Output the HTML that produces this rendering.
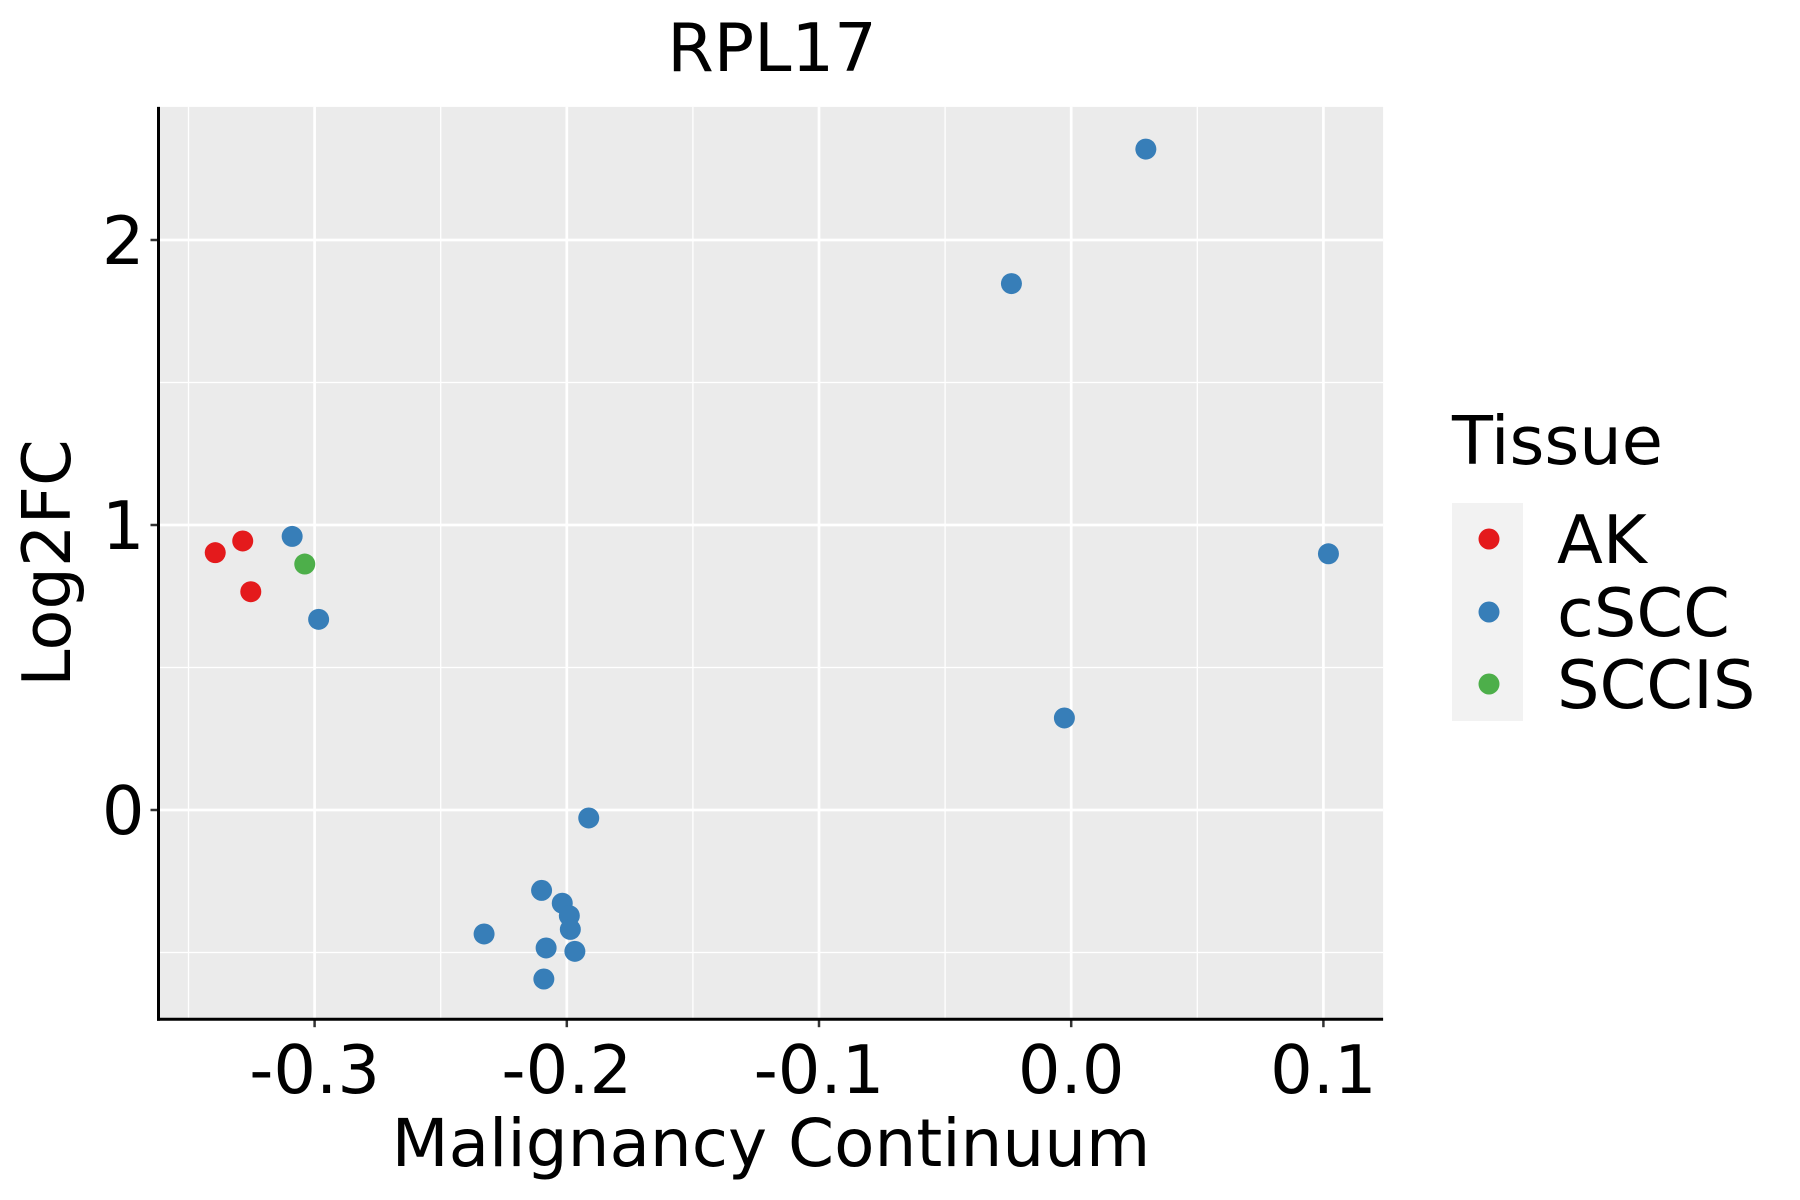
<!DOCTYPE html>
<html><head><meta charset="utf-8"><style>
html,body{margin:0;padding:0;background:#fff;}
svg{display:block;font-family:"DejaVu Sans","Liberation Sans",sans-serif;}
</style></head><body>
<svg id="chart" width="1800" height="1200" viewBox="0 0 1800 1200">
<rect x="158.5" y="106.9" width="1224.6" height="912.3" fill="#ebebeb"/>
<g id="grid"></g>
<g id="points"></g>
<g id="axes"></g>
<text x="772" y="71" font-size="67" text-anchor="middle">RPL17</text>
<text x="771" y="1166" font-size="66" text-anchor="middle">Malignancy Continuum</text>
<text transform="translate(70,563) rotate(-90)" font-size="67" text-anchor="middle">Log2FC</text>
<g>
<text x="1452" y="464" font-size="67">Tissue</text>
<rect x="1452" y="503" width="71" height="218" fill="#f2f2f2"/>
<circle cx="1489" cy="539" r="10.5" fill="#E41A1C"/>
<text x="1557" y="563" font-size="67">AK</text>
<circle cx="1489" cy="612" r="10.5" fill="#377EB8"/>
<text x="1557" y="636" font-size="67">cSCC</text>
<circle cx="1489" cy="684" r="10.5" fill="#4DAF4A"/>
<text x="1557" y="708" font-size="67">SCCIS</text>
</g>
</svg>
<script>
const xValues = [-0.3394,-0.3285,-0.3253,-0.3039,-0.3089,-0.2984,0.0296,-0.0237,0.102,-0.0027,-0.1913,-0.21,-0.2018,-0.199,-0.1986,-0.2328,-0.2082,-0.1968,-0.2091];
const yValues = [0.903,0.944,0.766,0.863,0.960,0.669,2.319,1.847,0.899,0.323,-0.028,-0.282,-0.327,-0.371,-0.419,-0.435,-0.484,-0.496,-0.593];
const tissues = ["AK","AK","AK","SCCIS","cSCC","cSCC","cSCC","cSCC","cSCC","cSCC","cSCC","cSCC","cSCC","cSCC","cSCC","cSCC","cSCC","cSCC","cSCC"];
const xTicks = [-0.3,-0.2,-0.1,0.0,0.1];
const xTickLabels = ["-0.3","-0.2","-0.1","0.0","0.1"];
const xMinor = [-0.35,-0.25,-0.15,-0.05,0.05];
const yTicks = [0,1,2];
const yTickLabels = ["0","1","2"];
const yMinor = [-0.5,0.5,1.5];
const colors = {AK:"#E41A1C",cSCC:"#377EB8",SCCIS:"#4DAF4A"};

const L=158.5,R=1383.1,T=106.9,B=1019.2;
function sx(v){return 1071.2 + v*2522;}
function sy(v){return 810.0 - v*285;}
const NS="http://www.w3.org/2000/svg";
function mk(tag,attrs,parent){const e=document.createElementNS(NS,tag);for(const k in attrs)e.setAttribute(k,attrs[k]);parent.appendChild(e);return e;}
const grid=document.getElementById('grid'),pts=document.getElementById('points'),axes=document.getElementById('axes');
xMinor.forEach(v=>{const l=mk('line',{x1:sx(v),x2:sx(v),y1:T,y2:B,stroke:'#fff','stroke-width':1.3},grid);

});
yMinor.forEach(v=>{const l=mk('line',{x1:L,x2:R,y1:sy(v),y2:sy(v),stroke:'#fff','stroke-width':1.3},grid);

});
xTicks.forEach((v,i)=>{const l=mk('line',{x1:sx(v),x2:sx(v),y1:T,y2:B,stroke:'#fff','stroke-width':2.7},grid);


const t=mk('line',{x1:sx(v),x2:sx(v),y1:B,y2:B+8,stroke:'#333','stroke-width':2.5},axes);


const tx=mk('text',{x:sx(v),y:1093,'font-size':67,'text-anchor':'middle',fill:'#000'},axes);tx.textContent=xTickLabels[i];

});
yTicks.forEach((v,i)=>{const l=mk('line',{x1:L,x2:R,y1:sy(v),y2:sy(v),stroke:'#fff','stroke-width':2.7},grid);


const t=mk('line',{x1:L-8,x2:L,y1:sy(v),y2:sy(v),stroke:'#333','stroke-width':2.5},axes);


const tx=mk('text',{x:L-14,y:sy(v)+24,'font-size':67,'text-anchor':'end',fill:'#000'},axes);tx.textContent=yTickLabels[i];

});
const ax1=mk('line',{x1:L,x2:L,y1:T,y2:B+1.5,stroke:'#000','stroke-width':3},axes);


const ax2=mk('line',{x1:L-1.5,x2:R,y1:B,y2:B,stroke:'#000','stroke-width':3},axes);


xValues.forEach((v,i)=>{const c=mk('circle',{cx:sx(v),cy:sy(yValues[i]),r:10.5,fill:colors[tissues[i]]},pts);

});
</script>
</body></html>
